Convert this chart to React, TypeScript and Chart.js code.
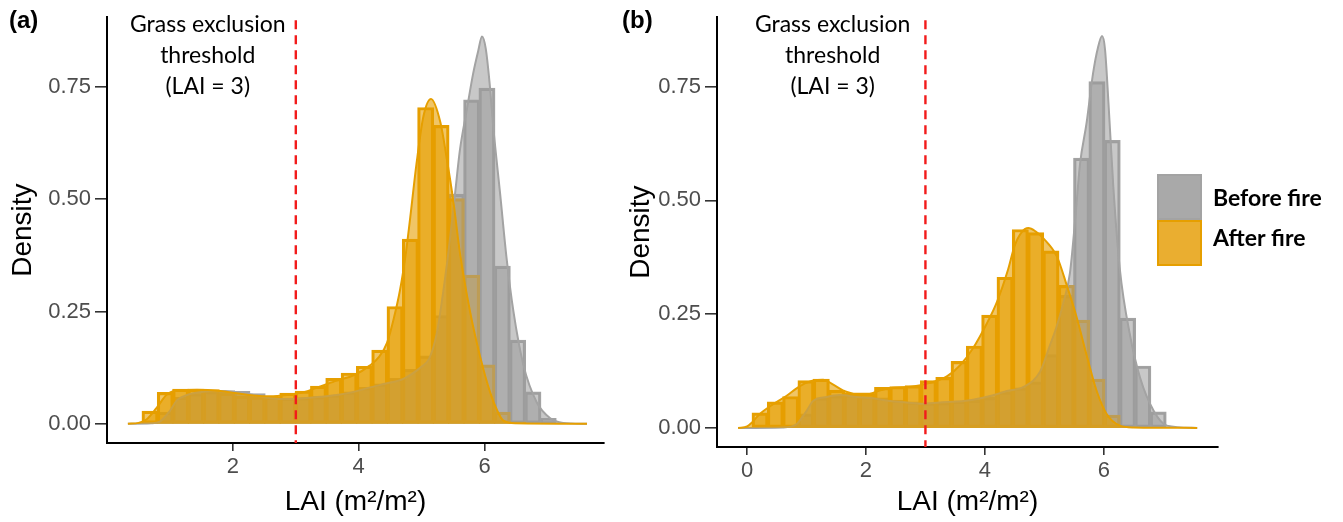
import React, { useEffect, useRef } from "react";
import { Chart, registerables } from "chart.js";
Chart.register(...registerables);

// ---------- Panel (a) ----------
const binCentersA = [0.682, 0.925, 1.169, 1.412, 1.656, 1.899, 2.143, 2.386, 2.630, 2.873, 3.117, 3.361, 3.604, 3.848, 4.091, 4.335, 4.578, 4.822, 5.065, 5.309, 5.552, 5.796, 6.039, 6.283, 6.526, 6.770, 7.013];
const beforeBarsA = [0.003, 0.025, 0.058, 0.066, 0.071, 0.073, 0.071, 0.066, 0.058, 0.056, 0.057, 0.060, 0.063, 0.070, 0.080, 0.088, 0.100, 0.120, 0.150, 0.240, 0.510, 0.720, 0.746, 0.350, 0.185, 0.070, 0.011];
const afterBarsA = [0.027, 0.069, 0.076, 0.076, 0.075, 0.067, 0.061, 0.059, 0.058, 0.067, 0.072, 0.083, 0.100, 0.112, 0.127, 0.163, 0.260, 0.410, 0.703, 0.663, 0.500, 0.330, 0.130, 0.025, 0.003, 0, 0];
const beforeDensXA = [0.33, 0.7, 0.84, 1.0, 1.11, 1.27, 1.59, 1.8, 2.06, 2.33, 2.59, 2.86, 3.12, 3.39, 3.65, 3.92, 4.18, 4.45, 4.71, 4.98, 5.12, 5.24, 5.35, 5.45, 5.53, 5.61, 5.72, 5.82, 5.9, 5.96, 6.02, 6.08, 6.14, 6.25, 6.35, 6.46, 6.62, 6.83, 7.04, 7.25, 7.63];
const beforeDensYA = [0, 0.001, 0.005, 0.029, 0.052, 0.064, 0.072, 0.073, 0.070, 0.064, 0.057, 0.055, 0.057, 0.060, 0.064, 0.071, 0.081, 0.090, 0.100, 0.125, 0.145, 0.200, 0.300, 0.410, 0.510, 0.610, 0.700, 0.780, 0.830, 0.862, 0.835, 0.760, 0.660, 0.510, 0.370, 0.250, 0.130, 0.048, 0.013, 0.002, 0];
const afterDensXA = [0.33, 0.5, 0.63, 0.79, 0.95, 1.11, 1.43, 1.8, 2.06, 2.33, 2.59, 2.86, 3.12, 3.39, 3.65, 3.92, 4.18, 4.33, 4.45, 4.55, 4.66, 4.75, 4.82, 4.92, 5.03, 5.15, 5.3, 5.4, 5.5, 5.61, 5.77, 5.93, 6.09, 6.2, 6.3, 6.5, 7.63];
const afterDensYA = [0, 0.002, 0.010, 0.036, 0.065, 0.074, 0.076, 0.073, 0.068, 0.063, 0.061, 0.064, 0.070, 0.083, 0.096, 0.108, 0.130, 0.150, 0.180, 0.230, 0.300, 0.380, 0.460, 0.580, 0.685, 0.723, 0.670, 0.590, 0.500, 0.380, 0.250, 0.150, 0.070, 0.030, 0.007, 0.001, 0];

// ---------- Panel (b) ----------
const binCentersB = [0.219, 0.476, 0.734, 0.991, 1.249, 1.506, 1.764, 2.021, 2.279, 2.536, 2.794, 3.051, 3.309, 3.566, 3.824, 4.081, 4.339, 4.596, 4.854, 5.111, 5.369, 5.626, 5.884, 6.141, 6.399, 6.656, 6.914];
const beforeBarsB = [0, 0, 0.002, 0.030, 0.065, 0.070, 0.072, 0.068, 0.065, 0.060, 0.056, 0.054, 0.055, 0.058, 0.060, 0.066, 0.078, 0.087, 0.100, 0.160, 0.290, 0.592, 0.760, 0.631, 0.240, 0.135, 0.034];
const afterBarsB = [0.032, 0.056, 0.068, 0.103, 0.106, 0.082, 0.075, 0.074, 0.088, 0.090, 0.092, 0.103, 0.110, 0.145, 0.179, 0.247, 0.330, 0.435, 0.428, 0.388, 0.312, 0.236, 0.106, 0.027, 0, 0, 0];
const beforeDensXB = [-0.15, 0.6, 0.83, 1.0, 1.11, 1.34, 1.56, 1.84, 2.12, 2.40, 2.68, 2.96, 3.24, 3.53, 3.80, 4.09, 4.37, 4.65, 4.93, 5.09, 5.20, 5.32, 5.43, 5.52, 5.60, 5.71, 5.82, 5.90, 5.97, 6.02, 6.08, 6.16, 6.27, 6.44, 6.61, 6.84, 7.06, 7.57];
const beforeDensYB = [0, 0.001, 0.008, 0.037, 0.059, 0.068, 0.072, 0.068, 0.065, 0.059, 0.056, 0.053, 0.056, 0.058, 0.062, 0.070, 0.081, 0.090, 0.124, 0.180, 0.220, 0.275, 0.340, 0.460, 0.580, 0.670, 0.780, 0.835, 0.861, 0.832, 0.710, 0.529, 0.348, 0.204, 0.110, 0.037, 0.005, 0];
const afterDensXB = [-0.15, 0.0, 0.07, 0.21, 0.44, 0.66, 0.89, 1.11, 1.28, 1.45, 1.62, 1.84, 2.06, 2.23, 2.46, 2.79, 3.08, 3.36, 3.58, 3.80, 4.03, 4.20, 4.39, 4.50, 4.62, 4.73, 4.85, 4.98, 5.21, 5.38, 5.55, 5.71, 5.88, 6.05, 6.27, 6.5, 7.57];
const afterDensYB = [0, 0.003, 0.010, 0.030, 0.052, 0.070, 0.092, 0.104, 0.106, 0.095, 0.082, 0.075, 0.075, 0.082, 0.088, 0.091, 0.099, 0.113, 0.137, 0.175, 0.229, 0.276, 0.348, 0.400, 0.430, 0.439, 0.432, 0.417, 0.377, 0.312, 0.240, 0.160, 0.081, 0.030, 0.005, 0.001, 0];

const yTicks = [0, 0.25, 0.5, 0.75];
const xTicksA = [2, 4, 6];
const xTicksB = [0, 2, 4, 6];
const threshold = 3;
const annotationLines = ["Grass exclusion", "threshold", "(LAI = 3)"];
const legendLabels = ["Before fire", "After fire"];

const GRAY_FILL = "rgba(155,155,155,0.55)";
const GRAY_LINE = "#A3A3A3";
const ORANGE_FILL = "rgba(230,159,0,0.6)";
const ORANGE_LINE = "#E69F00";
const LEGEND_GRAY = "#A9A9A9";
const LEGEND_ORANGE = "#EAAE30";

type Panel = {
  tag: string;
  centers: number[];
  beforeBars: number[];
  afterBars: number[];
  bdx: number[]; bdy: number[];
  adx: number[]; ady: number[];
  xTicks: number[];
  xMin: number; xMax: number;
  yMin: number; yMax: number;
  yAxisWidth: number;
  xAxisHeight: number;
  padTop: number; padRight: number;
  annX: number;
  tagX: number;
  yTitleX: number;
  legend: boolean;
};

function extras(p: Panel) {
  return {
    id: "extras" + p.tag,
    afterDatasetsDraw(chart: any) {
      const { ctx, chartArea, scales } = chart;
      const x3 = scales.x.getPixelForValue(threshold);
      ctx.save();
      ctx.strokeStyle = "#F21B1B";
      ctx.lineWidth = 2.4;
      ctx.setLineDash([9, 6]);
      ctx.beginPath();
      ctx.moveTo(x3, chartArea.top + 3);
      ctx.lineTo(x3, chartArea.bottom);
      ctx.stroke();
      ctx.restore();
    },
    afterDraw(chart: any) {
      const { ctx, chartArea, scales } = chart;
      ctx.save();
      ctx.fillStyle = "#000";
      ctx.font = "bold 24px 'Liberation Sans', Arial, sans-serif";
      ctx.textAlign = "left";
      ctx.textBaseline = "alphabetic";
      ctx.fillText(p.tag, p.tagX, 28);
      const ax = scales.x.getPixelForValue(p.annX);
      ctx.font = "23px Lato, 'Open Sans', sans-serif";
      ctx.textAlign = "center";
      const bases = [32, 63, 94];
      annotationLines.forEach((t, i) => ctx.fillText(t, ax, bases[i]));
      ctx.font = "28px 'Liberation Sans', Arial, sans-serif";
      ctx.textBaseline = "middle";
      ctx.fillText("LAI (m²/m²)", (chartArea.left + chartArea.right) / 2, 502);
      ctx.save();
      ctx.translate(p.yTitleX, (chartArea.top + chartArea.bottom) / 2);
      ctx.rotate(-Math.PI / 2);
      ctx.fillText("Density", 0, 0);
      ctx.restore();
      if (p.legend) {
        const lx = 537, ly = 174, s = 45, h = 46;
        const fills = [LEGEND_GRAY, LEGEND_ORANGE];
        const lines = [GRAY_LINE, ORANGE_LINE];
        for (let i = 0; i < 2; i++) {
          const y = ly + i * h;
          ctx.fillStyle = fills[i];
          ctx.fillRect(lx, y, s, h);
          ctx.strokeStyle = lines[i];
          ctx.lineWidth = 2;
          ctx.strokeRect(lx + 1, y + 1, s - 2, h - 2);
        }
        ctx.fillStyle = "#000";
        ctx.font = "bold 23px Lato, 'Open Sans', sans-serif";
        ctx.textAlign = "left";
        ctx.textBaseline = "middle";
        ctx.fillText(legendLabels[0], 593, 199);
        ctx.fillText(legendLabels[1], 593, 239);
      }
      ctx.restore();
    },
  };
}

function build(canvas: HTMLCanvasElement, p: Panel) {
  const barCommon = {
    type: "bar" as const,
    borderWidth: 1.6,
    borderSkipped: false,
    inflateAmount: 0.8,
    grouped: false,
    barPercentage: 1,
    categoryPercentage: 1,
  };
  const lineCommon = {
    type: "line" as const,
    fill: "origin",
    pointRadius: 0,
    borderWidth: 2,
    cubicInterpolationMode: "monotone" as const,
  };
  return new Chart(canvas, {
    type: "bar",
    data: {
      datasets: [
        { ...barCommon, label: "Before fire", order: 4, backgroundColor: GRAY_FILL, borderColor: GRAY_LINE,
          data: p.centers.map((x, i) => ({ x, y: p.beforeBars[i] })) },
        { ...barCommon, label: "After fire", order: 3, backgroundColor: ORANGE_FILL, borderColor: ORANGE_LINE,
          data: p.centers.map((x, i) => ({ x, y: p.afterBars[i] })) },
        { ...lineCommon, label: "Before fire density", order: 2, backgroundColor: GRAY_FILL, borderColor: GRAY_LINE,
          data: p.bdx.map((x, i) => ({ x, y: p.bdy[i] })) },
        { ...lineCommon, label: "After fire density", order: 1, backgroundColor: ORANGE_FILL, borderColor: ORANGE_LINE,
          data: p.adx.map((x, i) => ({ x, y: p.ady[i] })) },
      ] as any,
    },
    options: {
      animation: false,
      responsive: false,
      devicePixelRatio: 1,
      layout: { padding: { left: 0, right: p.padRight, top: p.padTop, bottom: 0 } },
      plugins: { legend: { display: false }, tooltip: { enabled: false } },
      scales: {
        x: {
          type: "linear",
          min: p.xMin,
          max: p.xMax,
          offset: false,
          afterFit: (s: any) => { s.height = p.xAxisHeight; },
          afterBuildTicks: (s: any) => { s.ticks = p.xTicks.map((v) => ({ value: v })); },
          grid: { display: true, drawOnChartArea: false, drawTicks: true, tickLength: 8, color: "#333", lineWidth: 1.6, offset: false },
          border: { display: true, color: "#000", width: 2 },
          ticks: { autoSkip: false, maxRotation: 0, padding: 3, color: "#4D4D4D",
            font: { family: "'Liberation Sans', Arial, sans-serif", size: 22 },
            callback: (v: any) => String(v) },
        },
        y: {
          type: "linear",
          min: p.yMin,
          max: p.yMax,
          afterFit: (s: any) => { s.width = p.yAxisWidth; },
          afterBuildTicks: (s: any) => { s.ticks = yTicks.map((v) => ({ value: v })); },
          grid: { display: true, drawOnChartArea: false, drawTicks: true, tickLength: 12, color: "#333", lineWidth: 1.6 },
          border: { display: true, color: "#000", width: 2 },
          ticks: { autoSkip: false, padding: 4, color: "#4D4D4D",
            font: { family: "'Liberation Sans', Arial, sans-serif", size: 22 },
            callback: (v: any) => Number(v).toFixed(2) },
        },
      },
    } as any,
    plugins: [extras(p)],
  });
}

const panelA: Panel = {
  tag: "(a)", centers: binCentersA, beforeBars: beforeBarsA, afterBars: afterBarsA,
  bdx: beforeDensXA, bdy: beforeDensYA, adx: afterDensXA, ady: afterDensYA,
  xTicks: xTicksA, xMin: -0.002, xMax: 7.9, yMin: -0.0428, yMax: 0.905,
  yAxisWidth: 107, xAxisHeight: 79, padTop: 7, padRight: 16,
  annX: 1.6, tagX: 9, yTitleX: 23, legend: false,
};
const panelB: Panel = {
  tag: "(b)", centers: binCentersB, beforeBars: beforeBarsB, afterBars: afterBarsB,
  bdx: beforeDensXB, bdy: beforeDensYB, adx: afterDensXB, ady: afterDensYB,
  xTicks: xTicksB, xMin: -0.505, xMax: 7.92, yMin: -0.042, yMax: 0.9025,
  yAxisWidth: 97, xAxisHeight: 75, padTop: 11, padRight: 125,
  annX: 1.44, tagX: 2, yTitleX: 21, legend: true,
};

export default function App() {
  const refA = useRef<HTMLCanvasElement>(null);
  const refB = useRef<HTMLCanvasElement>(null);
  useEffect(() => {
    const a = build(refA.current!, panelA);
    const b = build(refB.current!, panelB);
    return () => { a.destroy(); b.destroy(); };
  }, []);
  return (
    <div style={{ position: "absolute", left: 0, top: 0, width: 1343, height: 522, background: "#fff" }}>
      <canvas ref={refA} width={620} height={522}
        style={{ position: "absolute", left: 0, top: 0, width: 620, height: 522 }} />
      <canvas ref={refB} width={723} height={522}
        style={{ position: "absolute", left: 620, top: 0, width: 723, height: 522 }} />
    </div>
  );
}
